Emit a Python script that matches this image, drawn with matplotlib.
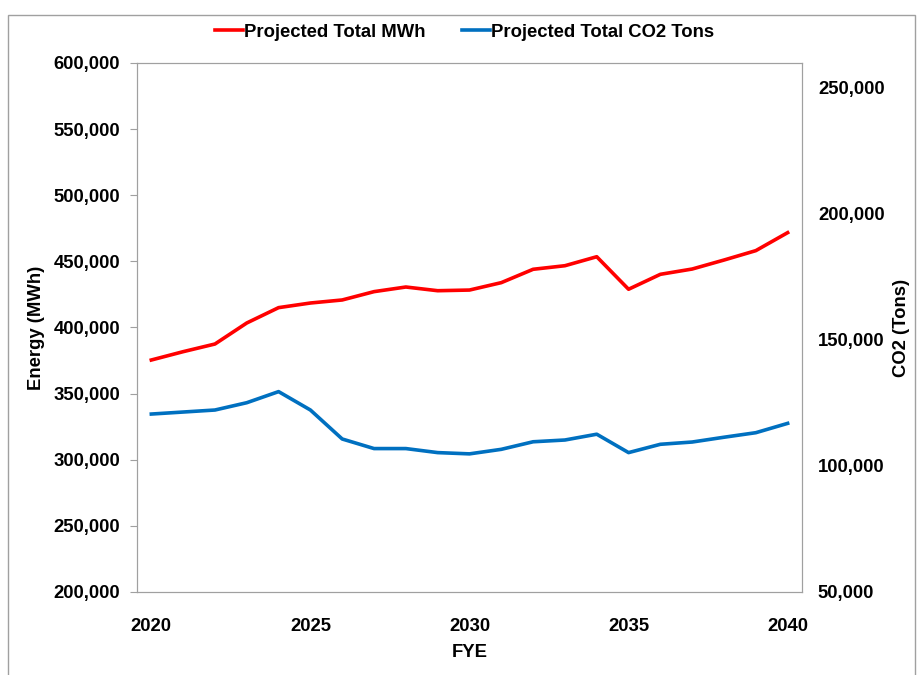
import matplotlib
matplotlib.use("Agg")
from matplotlib import pyplot as plt
from matplotlib.ticker import FuncFormatter
from matplotlib.patches import Rectangle

plt.rcParams['font.family'] = ['Liberation Sans', 'DejaVu Sans']
plt.rcParams['font.weight'] = 'bold'

# data
years = list(range(2020, 2041))
mwh = [375400, 381700, 387500, 403400, 415000, 418500, 420800, 427100, 430600, 427800,
       428300, 433900, 444000, 446700, 453500, 428900, 440200, 444200, 451000, 458100, 471700]
co2 = [120600, 121400, 122200, 125100, 129500, 122200, 110700, 106900, 106900, 105300,
       104800, 106600, 109600, 110300, 112600, 105300, 108600, 109500, 111400, 113200, 116900]
left_ticks = list(range(200000, 600001, 50000))
right_ticks = list(range(50000, 250001, 50000))
x_ticks = [2020, 2025, 2030, 2035, 2040]

fs = 13.3
fig = plt.figure(figsize=(9.22, 6.75), dpi=100)
ax = fig.add_axes([0.1486, 0.123, 0.7212, 0.7837])
ax2 = ax.twinx()

l1, = ax.plot(years, mwh, color='#FF0000', lw=2.6, solid_joinstyle='round', label='Projected Total MWh')
l2, = ax2.plot(years, co2, color='#0070C0', lw=2.6, solid_joinstyle='round', label='Projected Total CO2 Tons')

fmt = FuncFormatter(lambda v, p: '{:,.0f}'.format(v))
ax.set_xlim(2019.55, 2040.45)
ax.set_ylim(200000, 600000)
ax2.set_ylim(50000, 259900)
ax.set_yticks(left_ticks)
ax2.set_yticks(right_ticks)
ax.set_xticks(x_ticks)
ax.yaxis.set_major_formatter(fmt)
ax2.yaxis.set_major_formatter(fmt)

for a in (ax, ax2):
    for s in a.spines.values():
        s.set_color('#A0A0A0')
    a.tick_params(labelsize=fs, colors='#000000')
ax.tick_params(axis='y', length=5, color='#A0A0A0', pad=7)
ax.tick_params(axis='x', length=0, pad=19)
ax2.tick_params(axis='y', length=0, pad=11.5)

ax.set_xlabel('FYE', fontsize=fs, fontweight='bold', labelpad=6)
ax.set_ylabel('Energy (MWh)', fontsize=fs, fontweight='bold', labelpad=6)
ax2.set_ylabel('CO2 (Tons)', fontsize=fs, fontweight='bold', labelpad=6)

fig.legend(handles=[l1, l2], loc='center', bbox_to_anchor=(0.504, 0.952), ncol=2,
           frameon=False, fontsize=fs, handlelength=1.5, handletextpad=0.05,
           columnspacing=2.0)

fig.patches.append(Rectangle((0.009, -0.01), 0.983, 0.988, transform=fig.transFigure,
                             fill=False, edgecolor='#A0A0A0', lw=1))

fig.savefig('out.png', dpi=100)
